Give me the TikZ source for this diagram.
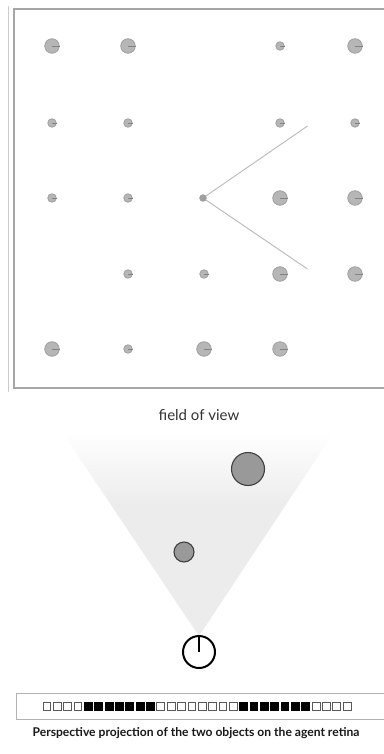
\documentclass[tikz,border=0pt]{standalone}
\usepackage{fontspec}
\setmainfont{Lato}
\newfontfamily\capfont{Lato Bold}
\definecolor{fovc}{RGB}{236,236,236}
\definecolor{dotfill}{RGB}{182,182,182}
\definecolor{dotline}{RGB}{160,160,160}
\definecolor{tickc}{RGB}{130,130,130}
\pgfdeclareverticalshading{fovsh}{100bp}{color(0bp)=(fovc); color(57bp)=(fovc); color(75bp)=(white); color(100bp)=(white)}
\begin{document}
\begin{tikzpicture}[x=1pt,y=-1pt,
  bigdot/.style={circle,draw=dotline,fill=dotfill,line width=0.8pt,minimum size=14.5pt,inner sep=0pt},
  smalldot/.style={circle,draw=dotline,fill=dotfill,line width=0.8pt,minimum size=8.5pt,inner sep=0pt},
  tick/.style={draw=tickc,line width=0.7pt},
  agentdot/.style={circle,fill=gray!75!black!60,draw=gray!70,minimum size=7pt,inner sep=0pt},
  viewline/.style={draw=gray!55,line width=0.9pt},
  obj/.style={circle,draw=black!75,fill=gray!80,line width=1.1pt,inner sep=0pt},
  wsq/.style={draw=gray!70!black,fill=white,line width=1pt,minimum size=7.8pt,inner sep=0pt},
  bsq/.style={draw=black,fill=black,line width=1pt,minimum size=7.8pt,inner sep=0pt}]
\useasboundingbox (0,0) rectangle (383,754);
\fill[white] (0,0) rectangle (383,754);
% frame
\draw[gray!40,line width=1.4pt] (8.5,6) -- (8.5,392);
\draw[gray!70,line width=2pt] (14,9.5) rectangle (400,387.5);
% grid of objects
\node[bigdot] (d11) at (52,46) {};
\node[bigdot] (d12) at (128,46) {};
\node[smalldot] (d14) at (280,46) {};
\node[bigdot] (d15) at (355,46) {};
\node[smalldot] (d21) at (52,123) {};
\node[smalldot] (d22) at (128,123) {};
\node[smalldot] (d24) at (280,123) {};
\node[smalldot] (d25) at (355,123) {};
\node[smalldot] (d31) at (52,198) {};
\node[smalldot] (d32) at (128,198) {};
\node[bigdot] (d34) at (280,198) {};
\node[bigdot] (d35) at (355,198) {};
\node[smalldot] (d42) at (128,274) {};
\node[smalldot] (d43) at (204,274) {};
\node[bigdot] (d44) at (280,274) {};
\node[bigdot] (d45) at (355,274) {};
\node[bigdot] (d51) at (52,349) {};
\node[smalldot] (d52) at (128,349) {};
\node[bigdot] (d53) at (204,349) {};
\node[bigdot] (d54) at (280,349) {};
\foreach \d in {d11,d12,d14,d15,d21,d22,d24,d25,d31,d32,d34,d35,d42,d43,d44,d45,d51,d52,d53,d54}
  \draw[tick] (\d.center) -- (\d.east);
% agent in top view
\coordinate (vu) at (307.5,126);
\coordinate (vd) at (307.5,269);
\draw[viewline] (203,198) -- (vu);
\draw[viewline] (203,198) -- (vd);
\node[agentdot] (ag) at (203,198) {};
% field of view
\coordinate (apex) at (199,636);
\coordinate (fl) at (62,432);
\coordinate (fr) at (334,432);
\shade[shading=fovsh] (apex) -- (fl) -- (fr) -- cycle;
\node[font=\fontsize{15}{17}\selectfont,text=black!80] (fov) at (199,415) {field of view};
\node[obj,minimum size=33pt] (o1) at (248,469) {};
\node[obj,minimum size=20pt] (o2) at (184,552) {};
\node[circle,draw=black,line width=2pt,minimum size=32pt,inner sep=0pt] (agent) at (199,652) {};
\draw[black,line width=2pt] (agent.center) -- (agent.north);
% retina
\draw[gray!60,line width=1pt] (16,693.5) rectangle (400,719.5);
\foreach \i in {0,...,29}{
  \pgfmathsetmacro{\xx}{47+10.35*\i}
  \ifnum\i<4 \def\st{wsq}\else\ifnum\i<11 \def\st{bsq}\else\ifnum\i<19 \def\st{wsq}\else\ifnum\i<26 \def\st{bsq}\else\def\st{wsq}\fi\fi\fi\fi
  \node[\st] (r\i) at (\xx,706.5) {};
}
\node[font=\capfont\fontsize{12.1}{14}\selectfont,text=black!90] (cap) at (196,733.5) {Perspective projection of the two objects on the agent retina};
\end{tikzpicture}
\end{document}
